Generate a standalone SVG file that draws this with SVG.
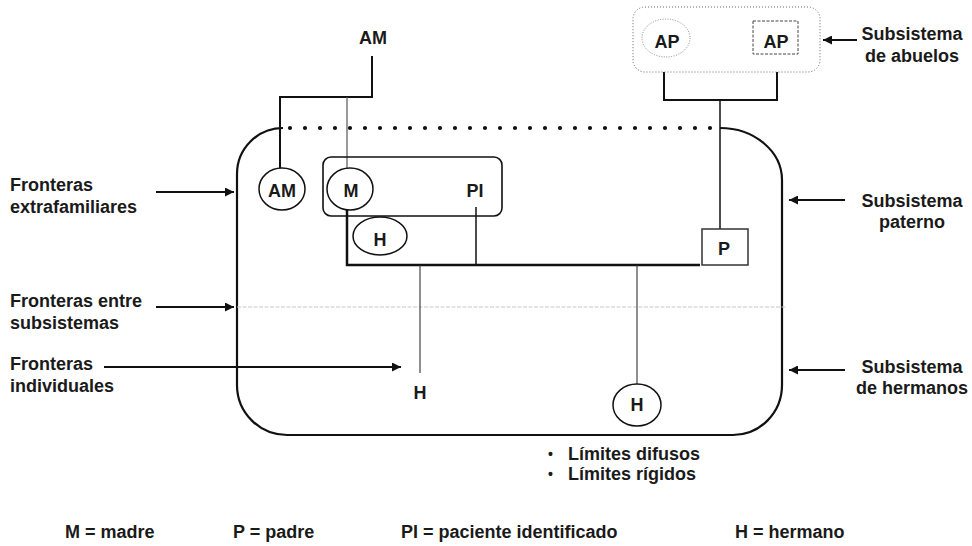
<svg xmlns="http://www.w3.org/2000/svg" width="972" height="546" viewBox="0 0 972 546">
  <defs>
    <marker id="arrow" viewBox="0 0 10 10" refX="10" refY="5" markerWidth="12" markerHeight="9" markerUnits="userSpaceOnUse" orient="auto">
      <path d="M0,0 L10,5 L0,10 z" fill="#111"/>
    </marker>
  </defs>
  <style>
    text { font-family: "Liberation Sans", Arial, sans-serif; font-weight: bold; font-size: 18px; fill: #1a1a1a; }
    .mid { text-anchor: middle; }
    .node { fill: #fff; stroke: #111; stroke-width: 1.5; }
    .line { fill: none; stroke: #111; stroke-width: 1.5; }
    .thick { fill: none; stroke: #111; stroke-width: 2.5; }
    .thin { fill: none; stroke: #333; stroke-width: 1.1; }
    .arrow { fill: none; stroke: #111; stroke-width: 2; marker-end: url(#arrow); }
    .dotted { fill: #fff; stroke: #666; stroke-width: 1; stroke-dasharray: 1 2; }
  </style>

  <!-- family boundary: solid sides, dotted top edge -->
  <g id="family-boundary">
    <path class="line" stroke-width="2" d="M283,128 A46,46 0 0 0 237,174 L237,385 A50,50 0 0 0 287,435 L733,435 A49,50 0 0 0 782,385 L782,180 A62,52 0 0 0 720,128" style="stroke-width:2.2"/>
    <line x1="290" y1="128" x2="712" y2="128" stroke="#111" stroke-width="4.2" stroke-linecap="round" stroke-dasharray="0 15"/>
    <line x1="237" y1="307" x2="787" y2="307" stroke="#c8c8c8" stroke-width="1" stroke-dasharray="4 1.5"/>
  </g>

  <!-- connectors -->
  <g id="connectors">
    <polyline class="line" points="372,56 372,97 280,97 280,168" style="stroke-width:2"/>
    <line x1="347" y1="97" x2="347" y2="168" stroke="#555" stroke-width="1.2"/>
    <polyline class="line" points="664,56 664,100 777,100 777,53" style="stroke-width:2"/>
    <line class="line" x1="720" y1="100" x2="720" y2="229"/>
    <polyline class="thick" points="347,210 347,265 700,265"/>
    <line class="line" x1="476" y1="207" x2="476" y2="265"/>
    <line class="thin" x1="420" y1="265" x2="420" y2="373"/>
    <line class="thin" x1="637" y1="265" x2="637" y2="384"/>
  </g>

  <!-- grandparent subsystem -->
  <g id="abuelos">
    <rect class="dotted" x="633" y="7" width="187" height="65" rx="12"/>
    <g id="ap-madre">
      <ellipse cx="666" cy="38" rx="24" ry="19" fill="#fff" stroke="#888" stroke-width="1" stroke-dasharray="1 1.5"/>
      <text class="mid" x="667" y="48">AP</text>
    </g>
    <g id="ap-padre">
      <rect x="753" y="21" width="45" height="33" fill="#fff" stroke="#444" stroke-width="1" stroke-dasharray="3 1.5"/>
      <text class="mid" x="776" y="48">AP</text>
    </g>
  </g>

  <g id="am-top"><text class="mid" x="373" y="44">AM</text></g>

  <g id="am-node">
    <ellipse class="node" cx="282" cy="189" rx="23" ry="21"/>
    <text class="mid" x="282" y="197">AM</text>
  </g>

  <g id="m-pi">
    <rect x="323" y="157" width="179" height="59" rx="8" fill="none" stroke="#111" stroke-width="1.6"/>
    <g id="m-node">
      <ellipse class="node" cx="350" cy="189" rx="23" ry="21"/>
      <text class="mid" x="351" y="197">M</text>
    </g>
    <g id="pi-node"><text class="mid" x="475" y="197">PI</text></g>
  </g>

  <g id="h-node-1">
    <ellipse class="node" cx="380" cy="236" rx="27" ry="19"/>
    <text class="mid" x="380" y="246">H</text>
  </g>

  <g id="p-node">
    <rect x="702" y="229" width="46" height="36" fill="#fff" stroke="#333" stroke-width="1.5"/>
    <text class="mid" x="724" y="255">P</text>
  </g>

  <g id="h-node-2"><text class="mid" x="420" y="399">H</text></g>

  <g id="h-node-3">
    <ellipse class="node" cx="637" cy="405" rx="24" ry="21"/>
    <text class="mid" x="637" y="411">H</text>
  </g>

  <!-- side labels with arrows -->
  <g id="label-extrafamiliares">
    <text x="10" y="191">Fronteras</text>
    <text x="10" y="213">extrafamiliares</text>
    <line class="arrow" x1="156" y1="192" x2="234" y2="192"/>
  </g>
  <g id="label-entre">
    <text x="10" y="307">Fronteras entre</text>
    <text x="10" y="329">subsistemas</text>
    <line class="arrow" x1="156" y1="307" x2="234" y2="307"/>
  </g>
  <g id="label-individuales">
    <text x="10" y="370">Fronteras</text>
    <text x="10" y="392">individuales</text>
    <line class="arrow" x1="104" y1="367" x2="401" y2="367"/>
  </g>
  <g id="label-abuelos">
    <text class="mid" x="912" y="40">Subsistema</text>
    <text class="mid" x="912" y="62">de abuelos</text>
    <line class="arrow" x1="857" y1="40" x2="823" y2="40"/>
  </g>
  <g id="label-paterno">
    <text class="mid" x="912" y="207">Subsistema</text>
    <text class="mid" x="912" y="228">paterno</text>
    <line class="arrow" x1="845" y1="200" x2="789" y2="200"/>
  </g>
  <g id="label-hermanos">
    <text class="mid" x="912" y="373">Subsistema</text>
    <text class="mid" x="912" y="394">de hermanos</text>
    <line class="arrow" x1="845" y1="370" x2="789" y2="370"/>
  </g>

  <!-- boundary key -->
  <g id="boundary-key">
    <text x="548" y="459" style="font-size:14px">•</text>
    <text x="568" y="460">Límites difusos</text>
    <text x="548" y="479" style="font-size:14px">•</text>
    <text x="568" y="480">Límites rígidos</text>
  </g>

  <!-- abbreviations -->
  <g id="abbreviations">
    <text x="65" y="538">M = madre</text>
    <text x="233" y="538">P = padre</text>
    <text x="401" y="538">PI = paciente identificado</text>
    <text x="735" y="538">H = hermano</text>
  </g>
</svg>
